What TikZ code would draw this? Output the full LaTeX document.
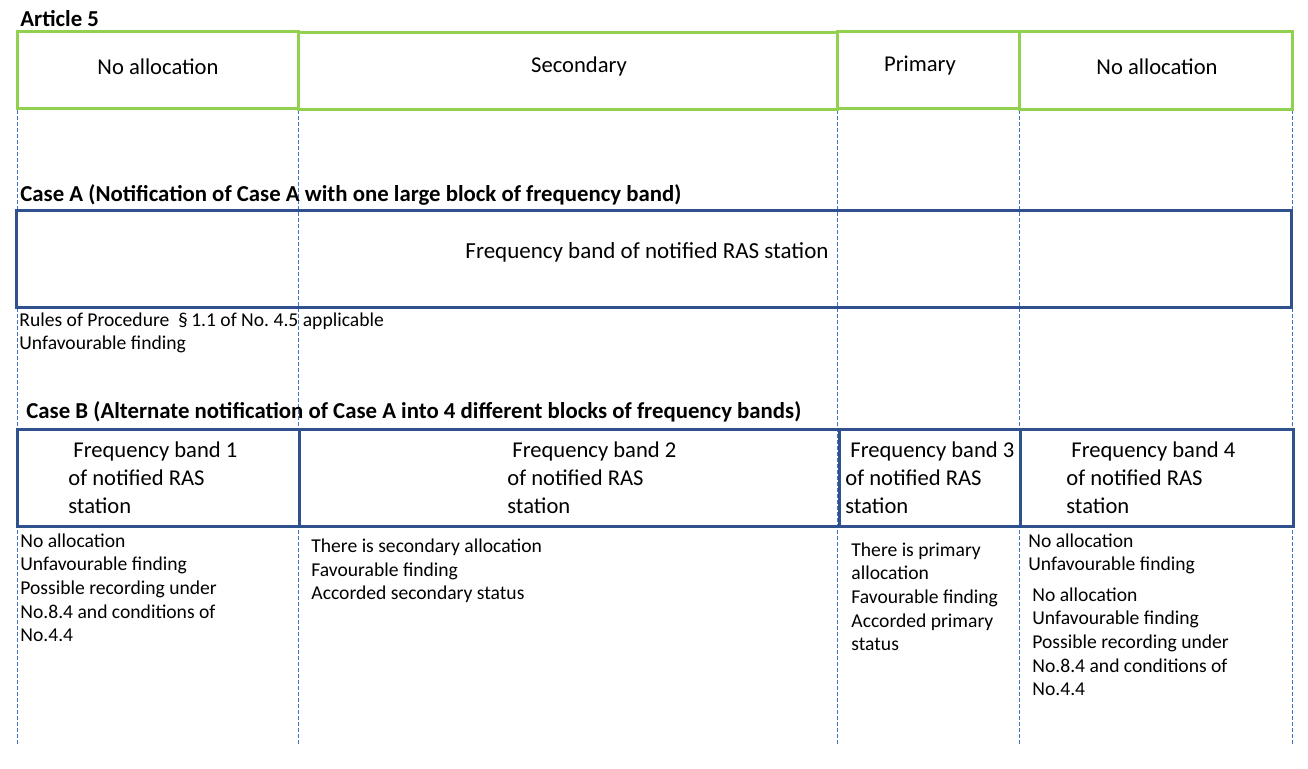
\documentclass[tikz,border=0pt]{standalone}
\usepackage{fontspec}
\setmainfont{Carlito}
\usepackage{xcolor}
\usetikzlibrary{positioning}
\definecolor{allocgreen}{RGB}{146,208,80}
\definecolor{bandblue}{RGB}{47,82,143}
\definecolor{guideblue}{RGB}{68,114,196}
\frenchspacing

\begin{document}
\begin{tikzpicture}[
    x=0.5pt, y=-0.5pt,
    alloc/.style={draw=allocgreen, line width=1.5pt},
    band/.style={draw=bandblue, line width=1.5pt},
    guide/.style={draw=guideblue, line width=0.4pt, dash pattern=on 2pt off 1pt},
    heading/.style={anchor=base west, inner sep=0, font=\fontsize{11.4}{13}\selectfont\bfseries},
    alloclabel/.style={anchor=base, inner sep=0, font=\fontsize{11.3}{13}\selectfont},
    bandlabel/.style={anchor=base west, inner sep=0, align=left, font=\fontsize{11.3}{14}\selectfont},
    finding/.style={anchor=base west, inner sep=0, align=left, font=\fontsize{9.8}{11.85}\selectfont}
]
\useasboundingbox (0,0) rectangle (1308,769);

% column guides
\foreach \gx in {17,298,837,1019,1292}
    \draw[guide] (\gx,32) -- (\gx,745);

% Article 5 allocations
\node[heading] (article) at (20,27) {Article 5};
\draw[alloc] (17,32) rectangle (298,109);
\draw[alloc] (298,33) rectangle (837,110);
\draw[alloc] (837,32) rectangle (1019,109);
\draw[alloc] (1019,32) rectangle (1292,110);
\node[alloclabel] (alloc1) at (158,75) {No allocation};
\node[alloclabel] (alloc2) at (579,73) {Secondary};
\node[alloclabel] (alloc3) at (920,72) {Primary};
\node[alloclabel] (alloc4) at (1157,75) {No allocation};

% Case A (multi-line nodes: base = last line)
\node[heading] (casea) at (20,202) {Case A (Notification of Case A with one large block of frequency band)};
\draw[band] (16,211) rectangle (1291,308);
\node[anchor=base, inner sep=0, font=\fontsize{11.5}{13}\selectfont] (bandA) at (647,259) {Frequency band of notified RAS station};
\node[finding] (findA) at (19,350) {Rules of Procedure~~§\,1.1 of No. 4.5 applicable\\Unfavourable finding};

% Case B
\node[heading] (caseb) at (26,419) {Case B (Alternate notification of Case A into 4 different blocks of frequency bands)};
\draw[band] (17,430) rectangle (299,527);
\draw[band] (299,430) rectangle (839,527);
\draw[band] (839,430) rectangle (1020,527);
\draw[band] (1020,430) rectangle (1293,527);
\node[bandlabel] (band1) at (68,514) {\hspace{2.5pt}Frequency band 1\\of notified RAS\\station};
\node[bandlabel] (band2) at (507,514) {\hspace{2.5pt}Frequency band 2\\of notified RAS\\station};
\node[bandlabel] (band3) at (845,514) {\hspace{2.5pt}Frequency band 3\\of notified RAS\\station};
\node[bandlabel] (band4) at (1066,514) {\hspace{2.5pt}Frequency band 4\\of notified RAS\\station};

% findings per band
\node[finding] (find1) at (20,642) {No allocation\\Unfavourable finding\\Possible recording under\\No.8.4 and conditions of\\No.4.4};
\node[finding] (find2) at (311,600) {There is secondary allocation\\Favourable finding\\Accorded secondary status};
\node[finding] (find3) at (851,651) {There is primary\\allocation\\Favourable finding\\Accorded primary\\status};
\node[finding] (find4a) at (1028,571) {No allocation\\Unfavourable finding};
\node[finding] (find4b) at (1032,696) {No allocation\\Unfavourable finding\\Possible recording under\\No.8.4 and conditions of\\No.4.4};

\end{tikzpicture}
\end{document}
